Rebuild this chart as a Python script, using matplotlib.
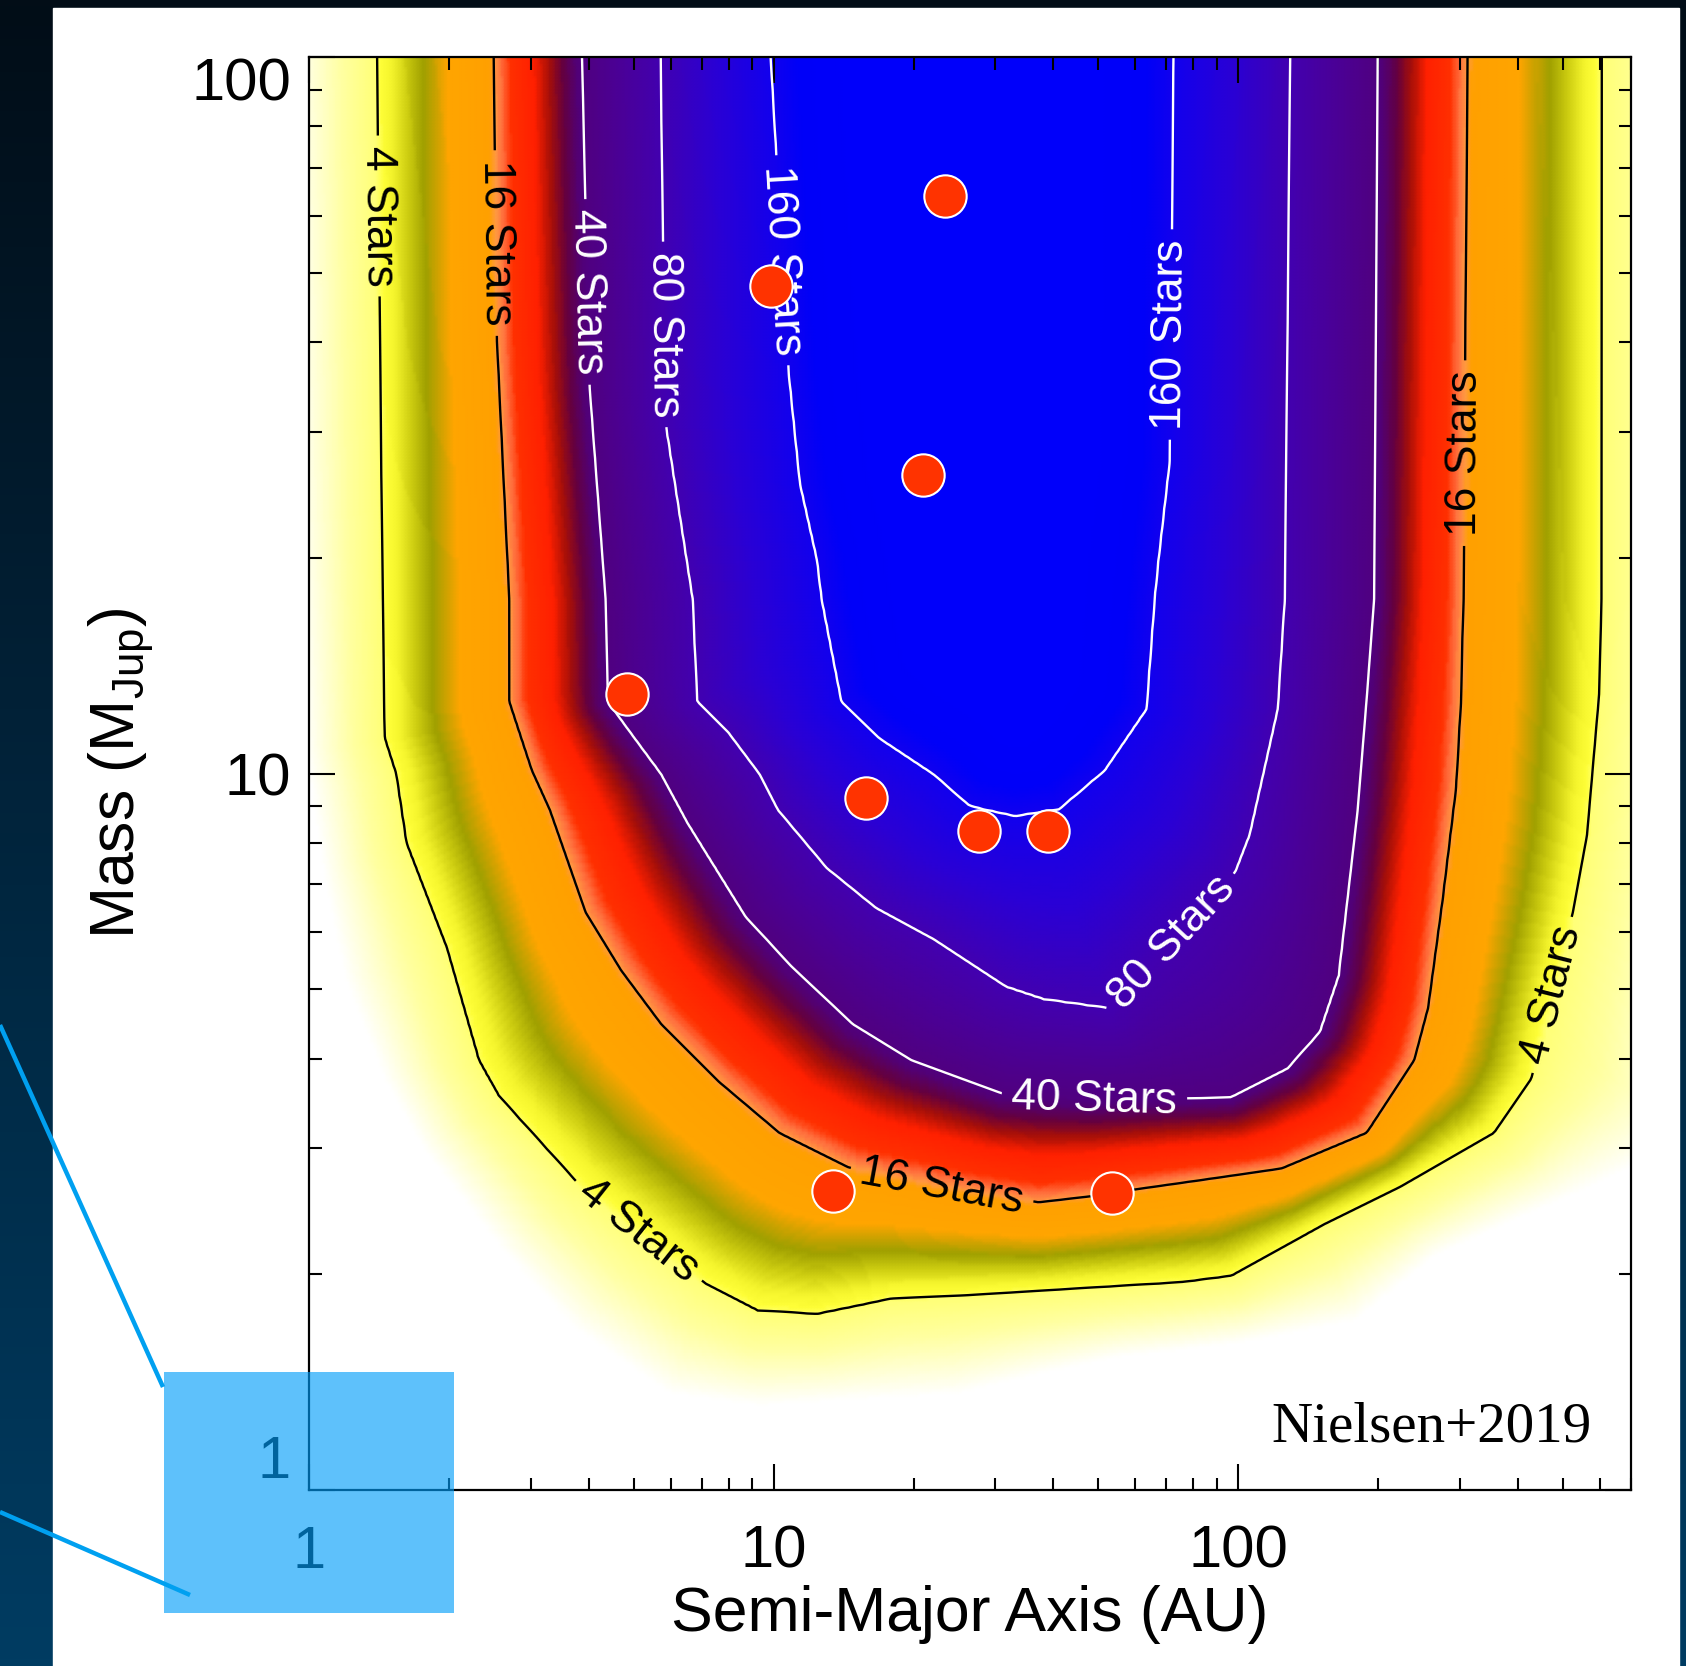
import numpy as np
import matplotlib
matplotlib.use("Agg")
import matplotlib.pyplot as plt
from matplotlib.path import Path
from matplotlib.patches import Rectangle
from matplotlib.colors import LinearSegmentedColormap
from matplotlib.ticker import NullFormatter

plt.rcParams['font.family'] = ['Liberation Sans', 'DejaVu Sans']
plt.rcParams['mathtext.fontset'] = 'custom'
plt.rcParams['mathtext.rm'] = 'Liberation Sans'

# contour curves (semi-major axis in AU, mass in M_Jup)
fade_a = [0.91, 0.933, 0.98, 1.08, 1.195, 1.456, 1.767, 2.61, 3.73, 6.0, 9.29, 16.7, 24.9,
          37.3, 54.7, 99, 179, 265, 394, 586, 728, 980, 1080, 1080]
fade_m = [100, 24.1, 10.8, 7.1, 5.15, 3.73, 2.98, 2.16, 1.68, 1.36, 1.31, 1.34, 1.36,
          1.45, 1.53, 1.60, 1.72, 2.12, 2.38, 2.66, 2.84, 3.18, 17.5, 100]

stars4_a = [1.40, 1.44, 1.45, 1.455, 1.54, 1.62, 1.98, 2.32, 2.56, 3.77, 7.14, 9.24, 12.4,
            15.3, 17.9, 26.1, 44.4, 75.8, 96.6, 153, 223, 355, 427, 525, 563, 598, 605, 606]
stars4_m = [100, 17.5, 12.6, 11.2, 9.98, 8.0, 5.71, 3.98, 3.55, 2.69, 1.94, 1.78, 1.76,
            1.81, 1.85, 1.87, 1.91, 1.95, 1.99, 2.35, 2.65, 3.15, 3.75, 6.41, 8.2, 12.9, 17.5, 100]

stars16_a = [2.50, 2.54, 2.70, 2.70, 3.02, 3.30, 3.94, 4.70, 5.73, 7.64, 10.3, 14.5, 23.2,
             37.2, 48.1, 60.6, 124, 189, 239, 256, 275, 294, 301, 305, 311]
stars16_m = [100, 40.1, 17.5, 12.6, 10.1, 8.9, 6.40, 5.31, 4.47, 3.71, 3.15, 2.82, 2.65,
             2.52, 2.57, 2.63, 2.81, 3.15, 3.98, 4.71, 6.66, 9.55, 12.5, 17.5, 100]

stars40_a = [3.87, 4.02, 4.35, 4.40, 4.69, 5.73, 6.53, 8.71, 10.9, 14.8, 19.8, 30.9, 49,
             96.4, 127.5, 150, 164.6, 180.6, 189.2, 196, 199.5]
stars40_m = [100, 34.6, 17.5, 12.6, 11.9, 9.98, 8.53, 6.31, 5.39, 4.47, 3.98, 3.58, 3.50,
             3.53, 3.87, 4.36, 5.22, 8.87, 12.9, 17.5, 100]

stars80_a = [5.71, 5.83, 6.69, 6.84, 7.99, 9.32, 10.2, 13.0, 16.6, 22.1, 31.6, 38.1, 52.7,
             72, 98.6, 105.9, 121.7, 126, 129.4]
stars80_m = [100, 31.2, 17.5, 12.6, 11.4, 9.98, 8.90, 7.38, 6.49, 5.87, 5.04, 4.84, 4.70,
             5.8, 7.29, 8.22, 12.3, 17.5, 100]

stars160_a = [9.86, 10.8, 11.4, 12.4, 12.7, 14.0, 16.9, 22.1, 26.3, 28.1, 33.1, 41.2, 51.5,
              63.4, 66.0, 67.3, 71.1, 72.5]
stars160_m = [100, 35.9, 25.4, 19.9, 17.5, 12.6, 11.2, 9.98, 9.04, 8.93, 8.73, 8.93, 10.1,
              12.3, 17.5, 19.9, 27.2, 100]

star_levels = [4, 16, 40, 80, 160]

# detected companions
planet_a = [23.4, 9.85, 21.0, 4.83, 15.8, 27.7, 38.9, 13.4, 53.6]
planet_m = [64, 47.9, 26.1, 12.9, 9.25, 8.31, 8.31, 2.61, 2.60]

# where the contour labels sit
label_spots = [(1.42, 60), (2.55, 55), (3.95, 47), (5.9, 41), (10.2, 52), (70, 41),
               (300, 28), (480, 4.9), (72, 5.8), (49, 3.5), (23, 2.65), (5.0, 2.25)]

stops = [(0.00, '#ffffff'), (0.30, '#ffffd0'), (0.60, '#ffffa0'), (0.97, '#ffff78'),
         (1.03, '#ffff38'), (1.12, '#f4f42c'), (1.25, '#cccc10'), (1.39, '#a0a000'),
         (1.50, '#d0a200'), (1.60, '#ffa500'), (1.95, '#ffa000'), (2.00, '#ff9a40'),
         (2.08, '#ff7040'), (2.18, '#ff3000'), (2.45, '#ff2000'), (2.62, '#a81008'),
         (2.78, '#650040'), (2.93, '#520075'), (3.00, '#500080'), (3.50, '#4a0098'),
         (4.00, '#4200b0'), (4.50, '#2a00d5'), (5.00, '#1200ee'), (5.35, '#0000f8'),
         (6.00, '#0000fa')]
cmap = LinearSegmentedColormap.from_list('stars', [(p / 6, c) for p, c in stops])

fig = plt.figure(figsize=(16.86, 16.66), dpi=100)

# slide background + white panel
bg = fig.add_axes([0, 0, 1, 1])
grad = np.linspace(0, 1, 256).reshape(-1, 1)
bg.imshow(grad, extent=[0, 1, 0, 1], aspect='auto', origin='upper',
          cmap=LinearSegmentedColormap.from_list('slide', ['#020d17', '#003c62']))
bg.add_patch(Rectangle((53 / 1686, 0), 1626 / 1686, 1658 / 1666, color='white'))
bg.set_xlim(0, 1)
bg.set_ylim(0, 1)
bg.axis('off')

ax = fig.add_axes([0.18327, 0.10564, 0.78410, 0.86014])
ax.set_xscale('log')
ax.set_yscale('log')
ax.set_xlim(1, 700)
ax.set_ylim(1, 100)

# build a smooth field whose level curves pass through the curves read above
curves = [(fade_a, fade_m), (stars4_a, stars4_m), (stars16_a, stars16_m),
          (stars40_a, stars40_m), (stars80_a, stars80_m), (stars160_a, stars160_m)]

ga = np.logspace(0, np.log10(700), 440)
gm = np.logspace(0, 2, 480)
A, M = np.meshgrid(ga, gm)
P = ax.transData.transform(np.column_stack([A.ravel(), M.ravel()]))


def seg_dist(pts, poly):
    d = np.full(len(pts), np.inf)
    for (x0, y0), (x1, y1) in zip(poly[:-1], poly[1:]):
        dx, dy = x1 - x0, y1 - y0
        t = ((pts[:, 0] - x0) * dx + (pts[:, 1] - y0) * dy) / (dx * dx + dy * dy)
        t = np.clip(t, 0, 1)
        d = np.minimum(d, np.hypot(pts[:, 0] - x0 - t * dx, pts[:, 1] - y0 - t * dy))
    return d


inside = []
dist = []
for ca, cm in curves:
    xs = [ca[0]] + list(ca) + [ca[-1]]
    ys = [1000] + list(cm) + [1000]
    poly = ax.transData.transform(np.column_stack([xs, ys]))
    inside.append(Path(poly).contains_points(P))
    dist.append(seg_dist(P, poly))
inside = np.array(inside)
dist = np.array(dist)

k = inside.sum(0) - 1
u = np.zeros(len(P))
idx = np.where((k >= 0) & (k < 5))[0]
d0 = dist[k[idx], idx]
d1 = dist[k[idx] + 1, idx]
u[idx] = k[idx] + d0 / (d0 + d1)
top = k == 5
u[top] = 5 + np.minimum(dist[5, top] / 80.0, 1)
U = u.reshape(A.shape)

ax.pcolormesh(A, M, U, cmap=cmap, vmin=0, vmax=6, shading='gouraud', rasterized=True)

cs = ax.contour(A, M, U, levels=[1, 2, 3, 4, 5],
                colors=['black', 'black', 'white', 'white', 'white'], linewidths=1.7)
fmt = {i + 1: f'{n} Stars' for i, n in enumerate(star_levels)}
texts = ax.clabel(cs, fmt=fmt, manual=label_spots, inline=True, fontsize=32,
                  inline_spacing=10)
for txt in texts:
    x, y = txt.get_position()
    r = txt.get_rotation() % 360
    if x > 50 and 225 < r < 315:
        txt.set_rotation(r - 180)
    elif x < 20 and 45 < r < 135:
        txt.set_rotation(r + 180)

ax.scatter(planet_a, planet_m, s=930, c='#ff3300', edgecolors='white',
           linewidths=1.5, zorder=5)

# axes cosmetics
for sp in ax.spines.values():
    sp.set_linewidth(1.6)
ax.set_xticks([1, 10, 100], labels=['1', '10', '100'])
ax.set_yticks([1, 10, 100], labels=['1', '10', '100'])
ax.xaxis.set_minor_formatter(NullFormatter())
ax.yaxis.set_minor_formatter(NullFormatter())
ax.tick_params(which='both', direction='in', top=True, right=True, width=1.5)
ax.tick_params(which='major', length=19, labelsize=43)
ax.tick_params(which='minor', length=9)
ax.tick_params(axis='x', which='major', pad=25)
ax.tick_params(axis='y', which='major', pad=13)
for t, va in zip(ax.yaxis.get_major_ticks(), ['bottom', 'center_baseline', 'top']):
    t.label1.set_va(va)

ax.set_xlabel('Semi-Major Axis (AU)', fontsize=45)
ax.xaxis.set_label_coords(0.5, -0.066)
ax.set_ylabel('Mass (M$_{\\mathrm{Jup}}$)', fontsize=45)
ax.yaxis.set_label_coords(-0.1157, 0.5)

ax.text(0.970, 0.034, 'Nielsen+2019', transform=ax.transAxes, ha='right',
        va='baseline', fontsize=41, family='Liberation Serif')

# slide highlight box and its pointer lines
ov = fig.add_axes([0, 0, 1, 1], zorder=10)
ov.patch.set_alpha(0)
ov.set_xlim(0, 1686)
ov.set_ylim(1666, 0)
ov.axis('off')
ov.plot([0, 163], [1025, 1387], color='#00a0f0', lw=3.2, solid_capstyle='butt')
ov.plot([0, 190], [1512, 1595], color='#00a0f0', lw=3.2, solid_capstyle='butt')
ov.add_patch(Rectangle((164, 1372), 290, 241, color='#009efa', alpha=0.63, lw=0))

fig.savefig('out.png', dpi=100)
